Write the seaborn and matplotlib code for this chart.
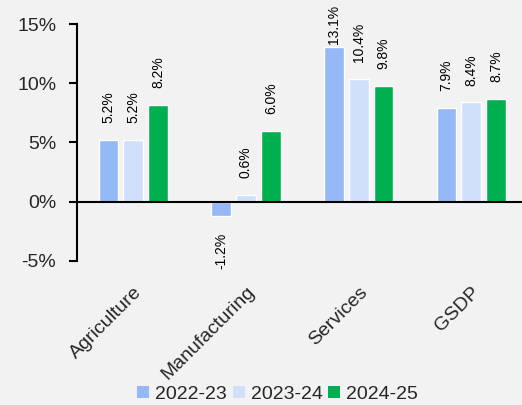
import matplotlib
matplotlib.use("Agg")
import matplotlib.pyplot as plt
import seaborn as sns
import pandas as pd
from matplotlib.patches import Patch

categories = ["Agriculture", "Manufacturing", "Services", "GSDP"]
years = ["2022-23", "2023-24", "2024-25"]
v_2022_23 = [5.2, -1.2, 13.1, 7.9]
v_2023_24 = [5.2, 0.6, 10.4, 8.4]
v_2024_25 = [8.2, 6.0, 9.8, 8.7]
colors = ["#95B8F6", "#D0DFFA", "#00B050"]
yticks = [-5, 0, 5, 10, 15]

rows = []
for yr, vals in zip(years, [v_2022_23, v_2023_24, v_2024_25]):
    for c, v in zip(categories, vals):
        rows.append({"Sector": c, "Year": yr, "Growth": v})
df = pd.DataFrame(rows)

sns.set_theme(style="white")
plt.rcParams["font.family"] = ["Liberation Sans", "DejaVu Sans"]
big, small = 14, 10

fig = plt.figure(figsize=(5.22, 4.05), dpi=100)
fig.patch.set_facecolor("#F2F2F2")
ax = fig.add_axes([0.1475, 0.3556, 0.8525, 0.5851])
ax.set_facecolor("#F2F2F2")

sns.barplot(data=df, x="Sector", y="Growth", hue="Year", hue_order=years,
            palette=colors, width=0.66, gap=0.2, ax=ax, legend=False,
            saturation=1, errorbar=None)

for cont in ax.containers:
    anns = ax.bar_label(cont, labels=[f"{v:.1f}%" for v in cont.datavalues],
                        rotation=90, padding=12, fontsize=small, color="black")
    for a, v in zip(anns, cont.datavalues):
        if v > 12:
            a.xyann = (0, 1.5)

ax.set_ylim(-5, 15)
ax.set_xlim(-0.5, 3.45)
ax.set_yticks(yticks)
ax.set_yticklabels([f"{t}%" for t in yticks], fontsize=big)
ax.axhline(0, color="black", lw=1.5, zorder=3)
for s in ["top", "right", "bottom"]:
    ax.spines[s].set_visible(False)
ax.spines["left"].set_color("black")
ax.spines["left"].set_linewidth(1.5)
ax.tick_params(axis="y", which="major", direction="out", length=6, width=1.5,
               color="black", pad=9, left=True)
ax.tick_params(axis="x", length=0, pad=16)
ax.set_xticks(range(len(categories)))
ax.set_xticklabels(categories, rotation=45, ha="right", rotation_mode="anchor",
                   fontsize=big)
ax.set_xlabel("")
ax.set_ylabel("")

handles = [Patch(facecolor=c, edgecolor="none") for c in colors]
fig.legend(handles, years, loc="center", bbox_to_anchor=(0.532, 0.026), ncol=3,
           frameon=False, fontsize=big, handlelength=0.62, handleheight=0.62,
           handletextpad=0.3, columnspacing=0.3, borderpad=0)

fig.savefig("out.png", dpi=100, facecolor=fig.get_facecolor())
